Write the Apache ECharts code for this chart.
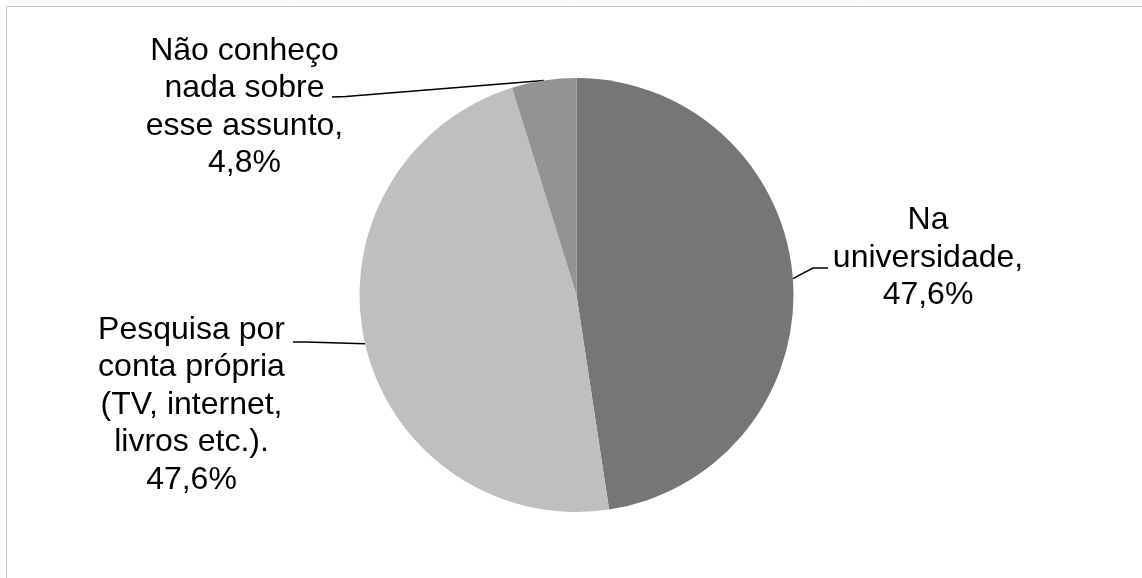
<!DOCTYPE html>
<html>
<head>
<meta charset="utf-8">
<script src="https://cdn.jsdelivr.net/npm/echarts@6/dist/echarts.min.js"></script>
<style>
  html, body { margin: 0; padding: 0; background: #ffffff; }
  #chart { width: 1142px; height: 578px; }
</style>
</head>
<body>
<div id="chart"></div>
<script>
// Onde os respondentes obtiveram informação sobre o assunto
const categories = [
  'Na\nuniversidade,',
  'Pesquisa por\nconta própria\n(TV, internet,\nlivros etc.).',
  'Não conheço\nnada sobre\nesse assunto,'
];
const percentages = [47.6, 47.6, 4.8];
const sliceColors = ['#767676', '#bfbfbf', '#939393'];

// Label anchors (block centre) and leader-line bends, per slice
const labelPlacement = [
  { x: 928, y: 258, bend: [813, 268], end: [828, 268] },
  { x: 191.5, y: 405, bend: [306, 342], end: [293, 342] },
  { x: 244.5, y: 107, bend: [346, 96.5], end: [332, 97] }
];

const chart = echarts.init(document.getElementById('chart'), null, { renderer: 'canvas' });

const option = {
  animation: false,
  backgroundColor: '#ffffff',
  graphic: [{
    type: 'rect',
    shape: { x: 6.5, y: 6.5, width: 1300, height: 700 },
    style: { fill: 'none', stroke: '#c4c4c4', lineWidth: 1 },
    silent: true
  }],
  series: [{
    type: 'pie',
    center: [576.5, 295],
    radius: 217,
    startAngle: 90,
    clockwise: true,
    avoidLabelOverlap: false,
    emphasis: { disabled: true },
    itemStyle: { borderWidth: 0 },
    label: {
      show: true,
      position: 'outside',
      fontFamily: 'Liberation Sans, Arial, sans-serif',
      fontSize: 32,
      lineHeight: 37.5,
      color: '#000000',
      align: 'center',
      formatter: p => p.name + '\n' + p.value.toFixed(1).replace('.', ',') + '%'
    },
    labelLine: {
      show: true,
      lineStyle: { color: '#000000', width: 1.5 }
    },
    labelLayout: params => {
      const lp = labelPlacement[params.dataIndex];
      const start = params.labelLinePoints ? params.labelLinePoints[0] : lp.bend;
      return {
        x: lp.x,
        y: lp.y,
        align: 'center',
        verticalAlign: 'middle',
        labelLinePoints: [start, lp.bend, lp.end]
      };
    },
    data: categories.map((name, i) => ({
      name: name,
      value: percentages[i],
      itemStyle: { color: sliceColors[i] }
    }))
  }]
};

chart.setOption(option);
</script>
</body>
</html>
